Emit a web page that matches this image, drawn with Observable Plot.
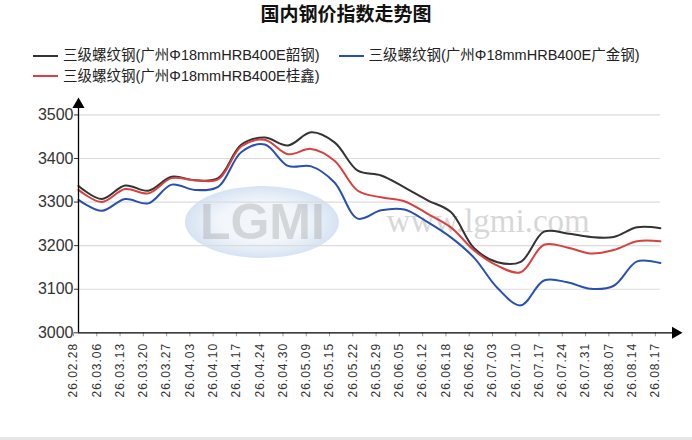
<!DOCTYPE html>
<html><head><meta charset="utf-8">
<script src="https://cdn.jsdelivr.net/npm/d3@7"></script>
<script src="https://cdn.jsdelivr.net/npm/@observablehq/plot@0.6"></script>
<style>
html,body{margin:0;padding:0;background:#fff;width:692px;height:440px;overflow:hidden;position:relative;font-family:"Liberation Sans","Noto Sans CJK SC",sans-serif;}
#title{position:absolute;top:0;left:0;width:692px;height:30px;line-height:30px;text-align:center;font-size:19px;font-weight:bold;color:#111;}
#legend{position:absolute;top:44px;left:33px;font-size:14.5px;color:#222;line-height:17px;}
.item{display:inline-flex;align-items:center;white-space:nowrap;}
.sw{display:inline-block;width:25px;height:2.5px;margin-right:5px;}
#chart{position:absolute;top:80px;left:0;}
#strip{position:absolute;left:0;top:437px;width:692px;height:3px;background:#e6e6e6;}
#chart svg [aria-label="x-axis tick label"] text{letter-spacing:1px;}
</style>
</head><body>
<div id="title">国内钢价指数走势图</div>
<div id="legend"></div>
<div id="chart"></div>
<div id="strip"></div>
<script>
const categories = ["26.02.28","26.03.06","26.03.13","26.03.20","26.03.27","26.04.03","26.04.10","26.04.17","26.04.24","26.04.30","26.05.09","26.05.15","26.05.22","26.05.29","26.06.05","26.06.12","26.06.18","26.06.26","26.07.03","26.07.10","26.07.17","26.07.24","26.07.31","26.08.07","26.08.14","26.08.17"];
const seriesNames = ["三级螺纹钢(广州Φ18mmHRB400E韶钢)","三级螺纹钢(广州Φ18mmHRB400E广金钢)","三级螺纹钢(广州Φ18mmHRB400E桂鑫)"];
const seriesColors = ["#333333","#2850b0","#d94040"];
const shaogang = [3337,3307,3338,3326,3358,3350,3355,3432,3448,3430,3460,3437,3372,3361,3334,3304,3277,3194,3162,3163,3232,3228,3220,3220,3242,3240];
const guangjin = [3305,3280,3307,3297,3340,3328,3335,3415,3432,3383,3382,3345,3262,3281,3283,3254,3219,3172,3103,3063,3120,3116,3101,3108,3164,3160];
const guixin   = [3328,3300,3330,3320,3355,3350,3352,3428,3443,3410,3422,3395,3326,3311,3302,3273,3242,3189,3154,3139,3202,3196,3182,3190,3210,3210];
const yTicks = [3000,3100,3200,3300,3400,3500];
const yMin = 3000, yMax = 3540;
const xMax = 25.95;

// legend
const legend = document.getElementById("legend");
const order = [[0,1],[2]];
order.forEach(row => {
  const r = document.createElement("div");
  row.forEach((si, k) => {
    const it = document.createElement("span");
    it.className = "item";
    if (k > 0) it.style.marginLeft = "19px";
    it.innerHTML = `<span class="sw" style="background:${seriesColors[si]}"></span><span>${seriesNames[si]}</span>`;
    r.appendChild(it);
  });
  legend.appendChild(r);
});

const data = [];
[shaogang, guangjin, guixin].forEach((arr, s) => arr.forEach((v, i) => data.push({i, value: v, series: seriesNames[s]})));
const idx = categories.map((_, i) => i);
const last = categories.length - 1;

const chart = Plot.plot({
  width: 692, height: 357,
  marginLeft: 78, marginRight: 10, marginTop: 17, marginBottom: 104.7,
  style: {fontFamily: '"Liberation Sans","Noto Sans CJK SC",sans-serif', color: "#333", background: "transparent"},
  x: {type: "linear", domain: [0, xMax], label: null},
  y: {domain: [yMin, yMax], label: null},
  color: {domain: seriesNames, range: seriesColors},
  marks: [
    Plot.ruleY(yTicks.slice(1), {x1: 0, x2: last, stroke: "#dcdcdc", strokeWidth: 1.2}),
    Plot.text(["LGMI"], {x: 7.9, y: 3253, text: d => d, fontSize: 50, fontWeight: "bold", fill: "#9a9a9a", fillOpacity: 0.35, fontFamily: "Liberation Sans"}),
    Plot.text(["www.lgmi.com"], {x: 17.6, y: 3255, text: d => d, fontSize: 33, fill: "#bdbdbd", fillOpacity: 0.6, fontFamily: "Liberation Serif"}),
    Plot.axisY({ticks: yTicks, tickSize: 4, tickPadding: 1, fontSize: 16, tickFormat: d => String(d), stroke: "#333", label: null}),
    Plot.axisX({ticks: idx, tickFormat: i => categories[i], tickRotate: -90, tickSize: 4, tickPadding: 6, fontSize: 12, dx: -5, stroke: "#999", label: null}),
    Plot.line(data, {x: "i", y: "value", z: "series", stroke: "series", strokeWidth: 2, curve: "catmull-rom"}),
    Plot.ruleX([0], {y1: yMin, y2: yMax - 10, stroke: "#000", strokeWidth: 1.3}),
    Plot.ruleY([yMin], {x1: 0, x2: xMax - 0.4, stroke: "#000", strokeWidth: 1.3}),
    Plot.dot([0], {x: 0, y: yMax, symbol: "triangle", r: 4.5, fill: "#000", stroke: null, dy: 7}),
    Plot.dot([0], {x: xMax, y: yMin, symbol: "triangle", r: 4.5, fill: "#000", stroke: null, dx: -7, rotate: 90})
  ]
});

// logo ellipse (watermark background) via scales
const sx = chart.scale("x"), sy = chart.scale("y");
const xs = d3.scaleLinear().domain(sx.domain).range(sx.range);
const ys = d3.scaleLinear().domain(sy.domain).range(sy.range);
const svg = d3.select(chart);
const defs = svg.insert("defs", ":first-child");
const grad = defs.append("radialGradient").attr("id", "lg");
grad.append("stop").attr("offset", "55%").attr("stop-color", "#eef3fa");
grad.append("stop").attr("offset", "100%").attr("stop-color", "#c9daef");
svg.insert("ellipse", "defs + *")
  .attr("cx", xs(7.9)).attr("cy", ys(3253))
  .attr("rx", 77).attr("ry", 36)
  .attr("fill", "url(#lg)").attr("opacity", 0.75);

document.getElementById("chart").appendChild(chart);
</script>
</body></html>
